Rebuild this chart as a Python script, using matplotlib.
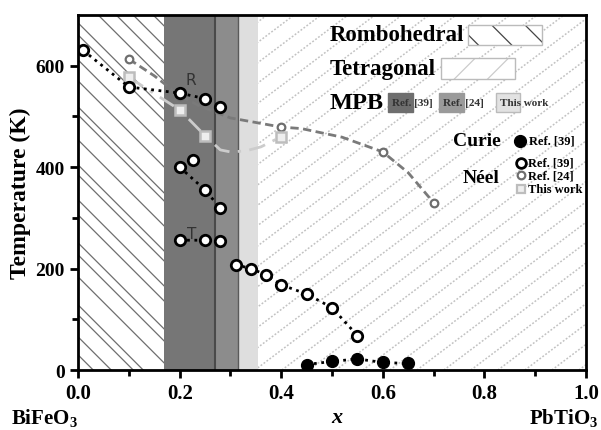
import matplotlib
matplotlib.use("Agg")
import matplotlib.pyplot as plt
from matplotlib.patches import Rectangle
import numpy as np

plt.rcParams['font.family'] = ['Liberation Serif', 'DejaVu Serif']
plt.rcParams['font.weight'] = 'bold'
plt.rcParams['mathtext.fontset'] = 'custom'
plt.rcParams['mathtext.rm'] = 'Liberation Serif:bold'
plt.rcParams['mathtext.bf'] = 'Liberation Serif:bold'
plt.rcParams['mathtext.it'] = 'Liberation Serif:bold:italic'
plt.rcParams['hatch.linewidth'] = 0.9

# Neel, Ref. [39] (open black circles)
neel39_r_x = [0.01, 0.10, 0.20, 0.25, 0.28]
neel39_r_y = [630, 558, 546, 535, 519]
neel39_m_x = [0.20, 0.25, 0.28]
neel39_m_y = [400, 355, 319]
neel39_iso_x = [0.227]
neel39_iso_y = [415]
neel39_t_x = [0.20, 0.25, 0.28]
neel39_t_y = [256, 256, 254]
neel39_tail_x = [0.31, 0.34, 0.37, 0.40, 0.45, 0.50, 0.55]
neel39_tail_y = [208, 200, 188, 168, 150, 123, 68]

# Curie, Ref. [39] (filled)
curie_x = [0.45, 0.50, 0.55, 0.60, 0.65]
curie_y = [11, 17, 22, 15, 13]

# Neel, Ref. [24]
neel24_x = [0.10, 0.20, 0.40, 0.60, 0.70]
neel24_y = [613, 541, 479, 430, 330]
neel24_curve_x = [0.10, 0.15, 0.20, 0.24, 0.30, 0.40, 0.44, 0.52, 0.60, 0.65, 0.70]
neel24_curve_y = [613, 580, 541, 520, 497, 479, 476, 459, 430, 389, 330]

# Neel, this work
tw_x = [0.10, 0.20, 0.25, 0.40]
tw_y = [577, 513, 462, 460]
tw_curve_x = [0.10, 0.20, 0.25, 0.28, 0.30, 0.33, 0.36, 0.40]
tw_curve_y = [577, 513, 462, 434, 430, 432, 440, 460]

# phase boundaries
rhombo_end = 0.17
mpb39 = (0.17, 0.27)
mpb24 = (0.27, 0.315)
mpb_tw = (0.315, 0.355)

fig = plt.figure(figsize=(6.01, 4.31), dpi=100)
ax = fig.add_axes([0.130, 0.139, 0.845, 0.824])
ax.set_xlim(0, 1.0)
ax.set_ylim(0, 700)

W = 0.845 * 601
H = 0.824 * 431

# rhombohedral hatching (irregular "\" lines)
rclip = Rectangle((0, 0), rhombo_end, 700, transform=ax.transData, fill=False, lw=0)
ax.add_patch(rclip)
offs = [-340, -322, -300, -290, -262, -240, -228, -200, -185, -160, -150, -125,
        -100, -92, -66, -45, -20, -8, 20, 38, 55, 75, 90]
for c in offs:
    ln, = ax.plot([c / W, (c + H) / W], [1, 0], transform=ax.transAxes,
                  color='#6e6e6e', lw=0.9, zorder=0.5)
    ln.set_clip_path(rclip)

# tetragonal hatching (dotted "/" lines)
tclip = Rectangle((mpb_tw[1], 0), 1 - mpb_tw[1], 700, transform=ax.transData, fill=False, lw=0)
ax.add_patch(tclip)
run = H / np.tan(np.radians(37))
for o in np.arange(-run, W, 27):
    ln, = ax.plot([o / W, (o + run) / W], [0, 1], transform=ax.transAxes,
                  color='#c2c2c2', lw=1.1, ls=(0, (1.2, 1.2)), zorder=0.5)
    ln.set_clip_path(tclip)

ax.axvspan(*mpb39, facecolor='#767676', linewidth=0, zorder=1)
ax.axvspan(*mpb24, facecolor='#8c8c8c', linewidth=0, zorder=1)
ax.axvspan(*mpb_tw, facecolor='#dedede', linewidth=0, zorder=1)
ax.axvline(mpb24[0], color='#4a4a4a', lw=1.5, zorder=1)
ax.axvline(mpb24[1], color='#5a5a5a', lw=1.0, zorder=1)

# curves
ax.plot(neel24_curve_x, neel24_curve_y, color='#7a7a7a', lw=2, ls=(0, (3, 1.6)), zorder=3)
ax.plot(tw_curve_x, tw_curve_y, color='#cccccc', lw=2, ls=(0, (6, 3, 1.2, 3)), zorder=3)

oc = dict(marker='o', ms=7.5, mfc='white', mec='black', mew=2, color='black',
          ls=':', lw=2, zorder=5)
ax.plot(neel39_r_x, neel39_r_y, **oc)
ax.plot(neel39_m_x, neel39_m_y, **oc)
ax.plot(neel39_iso_x, neel39_iso_y, **oc)
ax.plot(neel39_t_x, neel39_t_y, **oc)
ax.plot(neel39_tail_x, neel39_tail_y, **oc)
ax.plot(curie_x, curie_y, marker='o', ms=8.5, color='black', ls=':', lw=2, zorder=5)
ax.plot(neel24_x, neel24_y, marker='o', ms=5.5, mfc='white', mec='#6e6e6e', mew=1.6,
        ls='none', zorder=4)
ax.plot(tw_x, tw_y, marker='s', ms=6.5, mfc='#eeeeee', mec='#bdbdbd', mew=1.8,
        ls='none', zorder=4)

ax.text(0.222, 572, 'R', fontsize=11, color='#333333', ha='center', va='center',
        family='DejaVu Sans', weight='normal', zorder=6)
ax.text(0.224, 270, 'T', fontsize=11, color='#333333', ha='center', va='center',
        family='DejaVu Sans', weight='normal', zorder=6)

# legend-like annotations
ax.text(0.495, 661, 'Rombohedral', fontsize=16.5, ha='left', va='center', zorder=6)
ax.add_patch(Rectangle((0.768, 640), 0.146, 41, facecolor='white', edgecolor='#444444',
                       hatch='\\', lw=0, zorder=6))
ax.add_patch(Rectangle((0.768, 640), 0.146, 41, facecolor='none', edgecolor='#bbbbbb',
                       lw=1, zorder=6))
ax.text(0.495, 594, 'Tetragonal', fontsize=16.5, ha='left', va='center', zorder=6)
ax.add_patch(Rectangle((0.715, 573), 0.146, 43, facecolor='white', edgecolor='#cccccc',
                       hatch='/', lw=0, zorder=6))
ax.add_patch(Rectangle((0.715, 573), 0.146, 43, facecolor='none', edgecolor='#bbbbbb',
                       lw=1, zorder=6))
ax.text(0.495, 528, 'MPB', fontsize=17.5, ha='left', va='center', zorder=6)
for x0, fc, ec, lab in [(0.611, '#6e6e6e', '#6e6e6e', 'Ref. [39]'),
                        (0.711, '#9a9a9a', '#9a9a9a', 'Ref. [24]'),
                        (0.823, '#e2e2e2', '#bbbbbb', 'This work')]:
    ax.add_patch(Rectangle((x0, 508), 0.048, 39, facecolor=fc, edgecolor=ec, lw=1, zorder=6))
    ax.text(x0 + 0.008, 527, lab, fontsize=8, ha='left', va='center', color='#333333', zorder=7)

ax.text(0.786, 452, 'Curie', fontsize=14, ha='center', va='center', zorder=6)
ax.plot([0.871], [452], marker='o', ms=8.5, color='black', zorder=6)
ax.text(0.888, 452, 'Ref. [39]', fontsize=9, ha='left', va='center', zorder=6)
ax.text(0.794, 380, 'Néel', fontsize=14, ha='center', va='center', zorder=6)
ax.plot([0.872], [409], marker='o', ms=7, mfc='white', mec='black', mew=2, zorder=6)
ax.text(0.886, 409, 'Ref. [39]', fontsize=9, ha='left', va='center', zorder=6)
ax.plot([0.872], [384], marker='o', ms=5.5, mfc='white', mec='#6e6e6e', mew=1.6, zorder=6)
ax.text(0.886, 384, 'Ref. [24]', fontsize=9, ha='left', va='center', zorder=6)
ax.plot([0.872], [357], marker='s', ms=5.5, mfc='#eeeeee', mec='#bdbdbd', mew=1.6, zorder=6)
ax.text(0.886, 357, 'This work', fontsize=9, ha='left', va='center', zorder=6)

# axes styling
for s in ax.spines.values():
    s.set_linewidth(2)
    s.set_zorder(8)
ax.set_xticks([0.0, 0.2, 0.4, 0.6, 0.8, 1.0])
ax.set_xticks(np.arange(0.1, 1.0, 0.2), minor=True)
ax.set_yticks([0, 200, 400, 600])
ax.set_yticks([100, 300, 500], minor=True)
ax.tick_params(which='major', direction='out', length=6, width=2, labelsize=14)
ax.tick_params(axis='x', which='major', labelsize=15)
ax.tick_params(which='minor', direction='out', length=4, width=2)
for lab in ax.get_xticklabels() + ax.get_yticklabels():
    lab.set_fontweight('bold')
ax.set_ylabel('Temperature (K)', fontsize=17, fontweight='bold', labelpad=3)

fig.text(0.560, 0.030, 'x', fontsize=16, style='italic', weight='bold', ha='center', va='center')
fig.text(0.018, 0.030, r'BiFeO$_\mathbf{3}$', fontsize=15, ha='left', va='center')
fig.text(0.995, 0.030, r'PbTiO$_\mathbf{3}$', fontsize=15, ha='right', va='center')

fig.savefig('out.png', dpi=100)
